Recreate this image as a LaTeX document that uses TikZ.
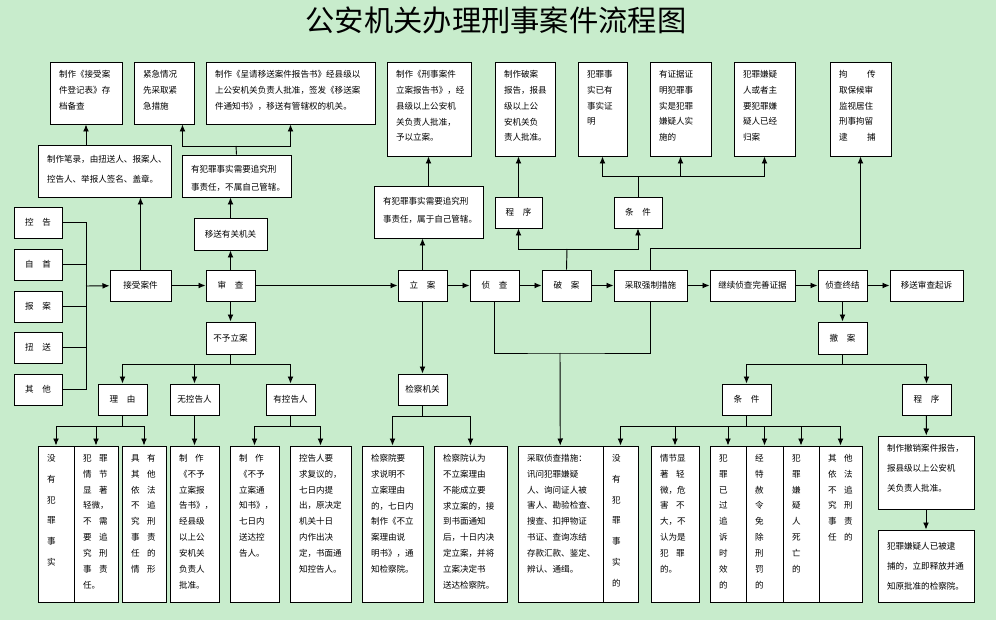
\documentclass[tikz,border=0pt]{standalone}
\usepackage{fontspec}
\newfontfamily\cjk{Noto Sans CJK SC}
\usetikzlibrary{arrows.meta,calc,positioning}
\definecolor{bgreen}{RGB}{200,236,204}
\newcommand{\gp}{\hspace{0.9em}}
% text box: [text options]{name}{x1}{y1}{x2}{y2}{text}
\newcommand{\tbox}[7][]{%
  \node[box, minimum width={(#5-#3)*0.03cm}, minimum height={(#6-#4)*0.03cm}] (#2) at ({(#3+#5)/2},{(#4+#6)/2}) {};
  \node[boxtext, anchor=north west, #1] (#2t) at ($(#2.north west)+(9,8)$) {#7};}
% label box: {name}{x1}{y1}{x2}{y2}{text}
\newcommand{\cbox}[6]{%
  \node[box, font=\cjk\fontsize{7.3}{9}\selectfont, minimum width={(#4-#2)*0.03cm}, minimum height={(#5-#3)*0.03cm}] (#1) at ({(#2+#4)/2},{(#3+#5)/2}) {#6};}

\begin{document}
\begin{tikzpicture}
[x=0.03cm, y=-0.03cm, >={Latex[length=6pt,width=5pt]}, line width=0.8pt,
 box/.style={draw, fill=white, rectangle, inner sep=0pt},
 boxtext/.style={font=\cjk\fontsize{7.3}{13.6}\selectfont, align=left, inner sep=0pt},
 wide/.style={font=\cjk\fontsize{7.3}{17.9}\selectfont},
 mid/.style={font=\cjk\fontsize{7.3}{17}\selectfont}]
\fill[bgreen] (0,0) rectangle (996,620);
\useasboundingbox (0,0) rectangle (996,620);

\node[font=\cjk\fontsize{25}{28}\selectfont] (title) at (496,20) {公安机关办理刑事案件流程图};

% top row
\tbox{ajdj}{50}{62}{122}{124}{制作《接受案\\件登记表》存\\档备查}
\tbox{jinji}{134}{62}{194}{124}{紧急情况\\先采取紧\\急措施}
\tbox{yisongbg}{206}{62}{375}{124}{制作《呈请移送案件报告书》经县级以\\上公安机关负责人批准，签发《移送案\\件通知书》，移送有管辖权的机关。}
\tbox{lianbg}{387}{62}{471}{156}{制作《刑事案件\\立案报告书》，经\\县级以上公安机\\关负责人批准，\\予以立案。}
\tbox{pobg}{495}{62}{555}{156}{制作破案\\报告，报县\\级以上公\\安机关负\\责人批准。}
\tbox{tj1}{578}{62}{627}{156}{犯罪事\\实已有\\事实证\\明}
\tbox{tj2}{650}{62}{711}{156}{有证据证\\明犯罪事\\实是犯罪\\嫌疑人实\\施的}
\tbox{tj3}{734}{62}{795}{156}{犯罪嫌疑\\人或者主\\要犯罪嫌\\疑人已经\\归案}
\tbox{qzcs}{830}{62}{891}{156}{拘\hspace{2.3em}传\\取保候审\\监视居住\\刑事拘留\\逮\hspace{2.3em}捕}

% second level
\tbox[mid, yshift=-2pt]{bilu}{38}{145}{171}{197}{制作笔录，由扭送人、报案人、\\控告人、举报人签名、盖章。}
\tbox[font=\cjk\fontsize{7.3}{15.3}\selectfont, yshift=-2pt]{buguan}{182}{155}{291}{197}{有犯罪事实需要追究刑\\事责任，不属自己管辖。}
\cbox{yisong}{194}{218}{267}{250}{移送有关机关}
\tbox[font=\cjk\fontsize{7.3}{15.3}\selectfont, yshift=-3pt]{guan}{374}{186}{483}{238}{有犯罪事实需要追究刑\\事责任，属于自己管辖。}
\cbox{cx1}{495}{197}{542}{228}{程\hspace{1em}序}
\cbox{tjian1}{614}{197}{662}{228}{条\hspace{1em}件}

% sources
\cbox{kg}{14}{207}{62}{238}{控\hspace{1em}告}
\cbox{zs}{14}{249}{62}{280}{自\hspace{1em}首}
\cbox{ba}{14}{291}{62}{322}{报\hspace{1em}案}
\cbox{ns}{14}{332}{62}{363}{扭\hspace{1em}送}
\cbox{qt}{14}{374}{62}{405}{其\hspace{1em}他}

% main row
\cbox{jieshou}{110}{270}{171}{301}{接受案件}
\cbox{shencha}{206}{270}{255}{301}{审\hspace{1em}查}
\cbox{lian}{398}{270}{447}{301}{立\hspace{1em}案}
\cbox{zhencha}{470}{270}{519}{301}{侦\hspace{1em}查}
\cbox{pojian}{542}{270}{591}{301}{破\hspace{1em}案}
\cbox{qiangzhi}{614}{270}{687}{301}{采取强制措施}
\cbox{jixu}{710}{270}{795}{301}{继续侦查完善证据}
\cbox{zhongjie}{818}{270}{867}{301}{侦查终结}
\cbox{qisu}{890}{270}{963}{301}{移送审查起诉}

% lower level
\cbox{buyu}{206}{322}{255}{354}{不予立案}
\cbox{liyou}{98}{384}{147}{415}{理\hspace{1em}由}
\cbox{wuk}{170}{384}{219}{415}{无控告人}
\cbox{youk}{266}{384}{315}{415}{有控告人}
\cbox{jc}{398}{374}{447}{405}{检察机关}
\cbox{chean}{818}{322}{867}{354}{撤\hspace{1em}案}
\cbox{tjian2}{722}{384}{771}{415}{条\hspace{1em}件}
\cbox{cx2}{902}{384}{951}{415}{程\hspace{1em}序}

% bottom row
\tbox[wide]{d1}{38}{446}{74}{602}{没\\有\\犯\\罪\\事\\实}
\tbox{d2}{74}{446}{118}{602}{犯\gp{}罪\\情\gp{}节\\显\gp{}著\\轻微，\\不\gp{}需\\要\gp{}追\\究\gp{}刑\\事\gp{}责\\任。}
\tbox{d3}{122}{446}{166}{602}{具\gp{}有\\其\gp{}他\\依\gp{}法\\不\gp{}追\\究\gp{}刑\\事\gp{}责\\任\gp{}的\\情\gp{}形}
\tbox{d4}{170}{446}{219}{602}{制\gp{}作\\《不予\\立案报\\告书》，\\经县级\\以上公\\安机关\\负责人\\批准。}
\tbox{d5}{230}{446}{279}{602}{制\gp{}作\\《不予\\立案通\\知书》，\\七日内\\送达控\\告人。}
\tbox{d6}{290}{446}{351}{602}{控告人要\\求复议的，\\七日内提\\出，原决定\\机关十日\\内作出决\\定，书面通\\知控告人。}
\tbox{d7}{362}{446}{423}{602}{检察院要\\求说明不\\立案理由\\的，七日内\\制作《不立\\案理由说\\明书》，通\\知检察院。}
\tbox{d8}{434}{446}{507}{602}{检察院认为\\不立案理由\\不能成立要\\求立案的，接\\到书面通知\\后，十日内决\\定立案，并将\\立案决定书\\送达检察院。}
\tbox{d9}{518}{446}{603}{602}{采取侦查措施：\\讯问犯罪嫌疑\\人、询问证人被\\害人、勘验检查、\\搜查、扣押物证\\书证、查询冻结\\存款汇款、鉴定、\\辨认、通缉。}
\tbox[wide]{d10}{603}{446}{638}{602}{没\\有\\犯\\罪\\事\\实\\的}
\tbox{e1}{651}{446}{699}{602}{情节显\\著\gp{}轻\\微，危\\害\gp{}不\\大，不\\认为是\\犯\gp{}罪\\的。}
\tbox{e2}{710}{446}{746}{602}{犯\\罪\\已\\过\\追\\诉\\时\\效\\的}
\tbox{e3}{746}{446}{783}{602}{经\\特\\赦\\令\\免\\除\\刑\\罚\\的}
\tbox{e4}{783}{446}{819}{602}{犯\\罪\\嫌\\疑\\人\\死\\亡\\的}
\tbox{e5}{819}{446}{862}{602}{其\gp{}他\\依\gp{}法\\不\gp{}追\\究\gp{}刑\\事\gp{}责\\任\gp{}的}
\tbox[mid]{f1}{878}{436}{974}{509}{制作撤销案件报告，\\报县级以上公安机\\关负责人批准。}
\tbox[mid, yshift=-4pt]{f2}{878}{530}{974}{602}{犯罪嫌疑人已被逮\\捕的，立即释放并通\\知原批准的检察院。}

% junction points
\coordinate (bus) at (86,286);
\coordinate (jtop) at (236,146);
\coordinate (jpo) at (567,249);
\coordinate (jtj) at (638,176);
\coordinate (jzc) at (560,353);

% sources into bus
\foreach \s in {kg,zs,ba,ns,qt} \draw (\s.east) -| (bus);
\draw[->] (bus) -- (jieshou);

% main row
\draw[->] (jieshou) -- (shencha);
\draw[->] (shencha) -- (lian);
\draw[->] (lian) -- (zhencha);
\draw[->] (zhencha) -- (pojian);
\draw[->] (pojian) -- (qiangzhi);
\draw[->] (qiangzhi) -- (jixu);
\draw[->] (jixu) -- (zhongjie);
\draw[->] (zhongjie) -- (qisu);

% upward branches
\draw[->] (jieshou.north) -- (jieshou.north |- bilu.south);
\draw[->] (ajdj.south |- bilu.north) -- (ajdj.south);
\draw[->] (shencha.north) -- (shencha.north |- yisong.south);
\draw[->] (yisong.north) -- (yisong.north |- buguan.south);
\draw (buguan.north) -- (jtop);
\draw[->] (jtop) -| ($(jinji.south east)+(-12,0)$);
\draw[->] (jtop) -| (yisongbg.south);
\draw[->] (lian.north) -- (lian.north |- guan.south);
\draw[->] (guan.north) -- (guan.north |- lianbg.south);
\draw (pojian.north) -- (jpo);
\draw[->] (jpo) -| (cx1);
\draw[->] (jpo) -| (tjian1);
\draw[->] (cx1.north) -- (cx1.north |- pobg.south);
\draw (tjian1.north) -- (jtj);
\draw[->] (jtj) -| (tj1);
\draw[->] (jtj) -| (tj2);
\draw[->] (jtj) -| (tj3);
\draw[->] (qiangzhi.north) -- ++(0,-21) -| (qzcs);

% downward branches
\draw[->] (shencha) -- (buyu);
\draw (buyu.south) -- ++(0,10) coordinate (jby);
\draw[->] (jby) -| (liyou);
\draw[->] (jby) -| (wuk);
\draw[->] (jby) -| (youk);
\draw (liyou.south) -- ++(0,11) coordinate (jly);
\draw[->] (jly) -| (d1);
\draw[->] (jly) -| (d2);
\draw[->] (jly) -| (d3);
\draw[->] (wuk) -- (d4);
\draw (youk.south) -- ++(0,11) coordinate (jyk);
\draw[->] (jyk) -| (d5);
\draw[->] (jyk) -| (d6);
\draw[->] (lian) -- (jc);
\draw (jc.south) -- ++(0,11) coordinate (jjc);
\draw[->] (jjc) -| (d7);
\draw[->] (jjc) -| (d8);
\draw (zhencha.south) |- (jzc) -| (qiangzhi.south);
\draw[->] (jzc) -- (d9);
\draw[->] (zhongjie) -- (chean);
\draw (chean.south) -- ++(0,10) coordinate (jca);
\draw[->] (jca) -| (tjian2);
\draw[->] (jca) -| (cx2);
\draw (tjian2.south) -- ++(0,11) coordinate (jtj2);
\foreach \e in {d10,e1,e2,e3,e4,e5} \draw[->] (jtj2) -| (\e);
\draw[->] (cx2) -- (f1);
\draw[->] (f1) -- (f2);
\end{tikzpicture}
\end{document}
